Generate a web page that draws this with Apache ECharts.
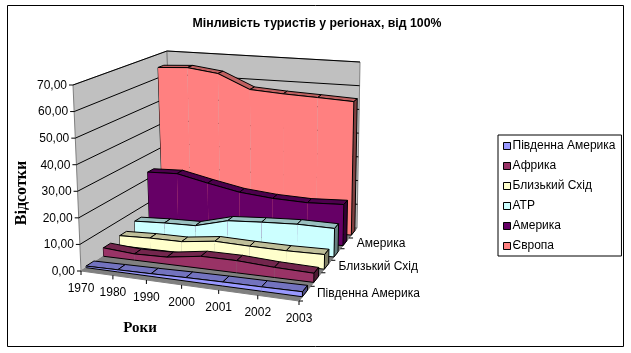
<!DOCTYPE html>
<html>
<head>
<meta charset="utf-8">
<style>
  html, body { margin: 0; padding: 0; background: #fff; }
  #main { width: 631px; height: 353px; }
</style>
<script src="https://cdn.jsdelivr.net/npm/echarts@6/dist/echarts.min.js"></script>
</head>
<body>
<div id="main"></div>
<script>
  // data
  let years = ['1970', '1980', '1990', '2000', '2001', '2002', '2003'];
  let valueTicks = [0, 10, 20, 30, 40, 50, 60, 70];
  let southAmerica = [0.6, 0.8, 1.0, 1.3, 1.5, 1.6, 1.8];
  let africa = [3.3, 2.4, 2.7, 4.6, 4.6, 3.8, 3.4];
  let middleEast = [4.0, 4.4, 4.4, 6.0, 5.6, 5.4, 5.6];
  let atp = [6.0, 6.5, 6.7, 10.0, 10.8, 11.4, 11.2];
  let america = [22.8, 23.2, 20.4, 17.8, 16.5, 16.0, 16.6];
  let europe = [64.4, 65.1, 63.4, 57.5, 56.6, 56.0, 55.3];

  let seriesNames = ['Південна Америка', 'Африка', 'Близький Схід', 'АТР', 'Америка', 'Європа'];
  let seriesValues = [southAmerica, africa, middleEast, atp, america, europe];
  let seriesColors = ['#9999FF', '#993366', '#FFFFCC', '#CCFFFF', '#660066', '#FF8080'];
  let topColors = ['#7373BF', '#73264D', '#BFBF99', '#99BFBF', '#4D004D', '#BF6060'];
  let endColors = ['#4D4D80', '#4D1A33', '#808066', '#668080', '#330033', '#804040'];

  // the hidden grid is the front plane before it gets projected
  let gridBox = { left: 81, top: 84, width: 221, height: 187 };
  let floorQuad = [[81, 271], [299, 301], [357, 228], [172, 212]];
  let roofQuad = [[73, 85], [303, 105], [360, 62], [167, 51]];
  let seriesDepth = 0.44;

  function makeHomography(q) {
    let dx1 = q[1][0] - q[2][0], dx2 = q[3][0] - q[2][0], sx = q[0][0] - q[1][0] + q[2][0] - q[3][0];
    let dy1 = q[1][1] - q[2][1], dy2 = q[3][1] - q[2][1], sy = q[0][1] - q[1][1] + q[2][1] - q[3][1];
    let den = dx1 * dy2 - dx2 * dy1;
    let g = (sx * dy2 - dx2 * sy) / den;
    let h = (dx1 * sy - sx * dy1) / den;
    let a = q[1][0] - q[0][0] + g * q[1][0], b = q[3][0] - q[0][0] + h * q[3][0], c = q[0][0];
    let d = q[1][1] - q[0][1] + g * q[1][1], e = q[3][1] - q[0][1] + h * q[3][1], f = q[0][1];
    return function (s, t) {
      let w = g * s + h * t + 1;
      return [(a * s + b * t + c) / w, (d * s + e * t + f) / w];
    };
  }
  let onFloor = makeHomography(floorQuad);
  let onRoof = makeHomography(roofQuad);

  // screen point from grid pixel (from api.coord) and depth 0..1
  function project(pt, depth) {
    let u = (pt[0] - gridBox.left) / gridBox.width;
    let v = (gridBox.top + gridBox.height - pt[1]) / gridBox.height;
    let a = onFloor(u, depth), b = onRoof(u, depth);
    return [a[0] + (b[0] - a[0]) * v, a[1] + (b[1] - a[1]) * v];
  }

  function poly(points, fill, stroke) {
    return {
      type: 'polygon',
      shape: { points: points },
      style: { fill: fill, stroke: stroke || null, lineWidth: 1 }
    };
  }
  function line(points, color) {
    return {
      type: 'polyline',
      shape: { points: points },
      style: { fill: null, stroke: color || '#000', lineWidth: 1 }
    };
  }
  function label(text, x, y, align) {
    return {
      type: 'text',
      style: {
        text: text, x: x, y: y, align: align, verticalAlign: 'middle',
        font: '12px "Liberation Sans"', fill: '#000'
      }
    };
  }

  // walls, floor, gridlines and all the tick labels
  function renderFrame(params, api) {
    let maxV = valueTicks[valueTicks.length - 1];
    let lastX = years.length - 1;
    let c00 = api.coord([0, 0]), c10 = api.coord([lastX, 0]);
    let c01 = api.coord([0, maxV]), c11 = api.coord([lastX, maxV]);
    let kids = [
      poly([project(c00, 0), project(c01, 0), project(c01, 1), project(c00, 1)], '#C0C0C0', '#808080'),
      poly([project(c00, 1), project(c01, 1), project(c11, 1), project(c10, 1)], '#C0C0C0', '#808080'),
      poly([project(c00, 0), project(c10, 0), project(c10, 1), project(c00, 1)], '#808080', '#808080')
    ];
    valueTicks.forEach(function (t) {
      let l = api.coord([0, t]), r = api.coord([lastX, t]);
      let front = project(l, 0);
      if (t > 0) {
        kids.push(line([front, project(l, 1), project(r, 1)]));
      }
      kids.push(line([[front[0] - 4, front[1]], front]));
      kids.push(label(t.toFixed(2).replace('.', ','), front[0] - 6, front[1] + 0.5, 'right'));
    });
    years.forEach(function (y, i) {
      let p = project(api.coord([i, 0]), 0);
      kids.push(line([p, [p[0], p[1] + 4]]));
      kids.push(label(y, p[0], p[1] + 17.5, 'center'));
    });
    seriesNames.forEach(function (name, k) {
      let p = project(c10, k / seriesNames.length);
      kids.push(line([p, [p[0] + 4, p[1]]]));
      if (k % 2 === 0) {
        let m = project(c10, (k + 0.5) / seriesNames.length);
        kids.push(label(name, m[0] + 12, m[1], 'left'));
      }
    });
    return { type: 'group', children: kids };
  }

  // one slice of one area, from point i to point i+1
  function renderArea(k) {
    return function (params, api) {
      let i = api.value(0);
      let vals = seriesValues[k];
      let kids = [];
      let d0 = (k + (1 - seriesDepth) / 2) / seriesNames.length;
      let d1 = (k + (1 + seriesDepth) / 2) / seriesNames.length;
      let top = api.coord([i, api.value(1)]);
      let base = api.coord([i, 0]);
      if (i === 0) {
        kids.push(line([project(base, d0), project(top, d0)]));
      }
      if (i < vals.length - 1) {
        let top2 = api.coord([i + 1, vals[i + 1]]);
        let base2 = api.coord([i + 1, 0]);
        kids.push(poly([project(top, d0), project(top2, d0), project(top2, d1), project(top, d1)], topColors[k], '#000'));
        kids.push(poly([project(base, d0), project(top, d0), project(top2, d0), project(base2, d0)], seriesColors[k]));
        kids.push(line([project(top, d0), project(top2, d0)]));
        kids.push(line([project(base, d0), project(base2, d0)]));
      } else {
        kids.push(poly([project(base, d0), project(top, d0), project(top, d1), project(base, d1)], endColors[k], '#000'));
      }
      return { type: 'group', children: kids };
    };
  }

  let myChart = echarts.init(document.getElementById('main'));

  let series = [{
    name: 'frame',
    type: 'custom',
    renderItem: renderFrame,
    silent: true,
    data: [[0, 0]]
  }];
  // back to front, as the nearer areas cover the farther ones
  for (let k = seriesNames.length - 1; k >= 0; k--) {
    series.push({
      name: seriesNames[k],
      type: 'custom',
      renderItem: renderArea(k),
      silent: true,
      itemStyle: { color: seriesColors[k] },
      z: 10 + seriesNames.length - k,
      data: seriesValues[k].map(function (v, i) { return [i, v]; })
    });
  }

  myChart.setOption({
    animation: false,
    backgroundColor: '#fff',
    title: {
      text: 'Мінливість туристів у регіонах, від 100%',
      left: 312,
      top: 13,
      textAlign: 'center',
      textStyle: { fontFamily: 'Liberation Sans', fontSize: 12.3, fontWeight: 'bold', color: '#000' }
    },
    legend: {
      orient: 'vertical',
      left: 498,
      top: 135,
      data: seriesNames,
      selectedMode: false,
      icon: 'rect',
      itemWidth: 7,
      itemHeight: 7,
      itemGap: 8,
      padding: [5, 6, 4, 5],
      borderColor: '#000',
      borderWidth: 1,
      itemStyle: { borderColor: '#000', borderWidth: 1 },
      textStyle: { fontFamily: 'Liberation Sans', fontSize: 12, color: '#000', padding: [0, 0, 0, -3] }
    },
    grid: gridBox,
    xAxis: { type: 'category', data: years, boundaryGap: false, show: false },
    yAxis: { type: 'value', min: 0, max: 70, interval: 10, show: false },
    graphic: [
      {
        type: 'rect',
        shape: { x: 7.5, y: 5.5, width: 616, height: 341 },
        style: { fill: null, stroke: '#000', lineWidth: 1 }
      },
      {
        type: 'text',
        x: 22,
        y: 193,
        rotation: Math.PI / 2,
        style: { text: 'Відсотки', align: 'center', verticalAlign: 'middle', font: 'bold 16px "Liberation Serif"', fill: '#000' }
      },
      {
        type: 'text',
        x: 140,
        y: 328,
        style: { text: 'Роки', align: 'center', verticalAlign: 'middle', font: 'bold 15px "Liberation Serif"', fill: '#000' }
      }
    ],
    series: series
  });
</script>
</body>
</html>
